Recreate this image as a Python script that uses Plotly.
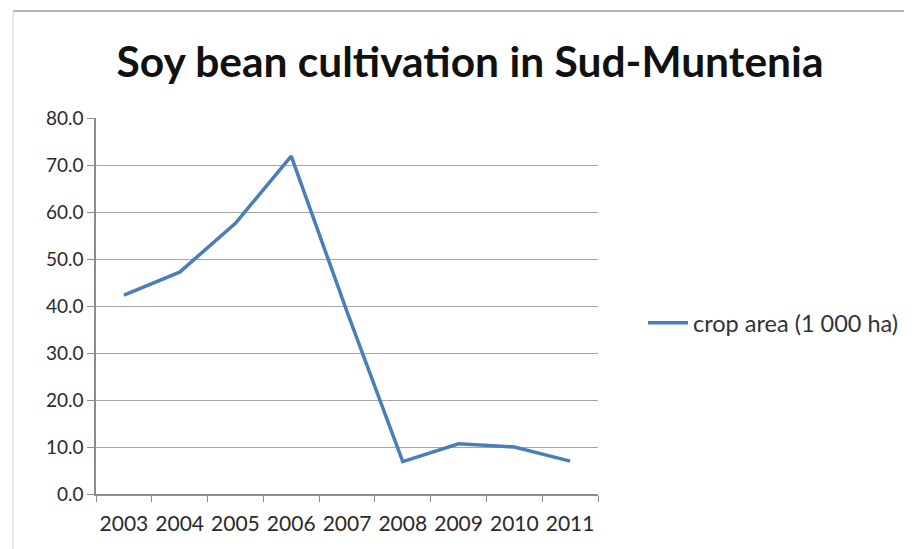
import plotly.graph_objects as go

years = ["2003", "2004", "2005", "2006", "2007", "2008", "2009", "2010", "2011"]
crop_area = [42.3, 47.2, 57.6, 71.9, 38.8, 6.9, 10.7, 10.0, 7.0]
series_name = "crop area (1 000 ha)"
title_text = "Soy bean cultivation in Sud-Muntenia"
y_ticks = [0, 10, 20, 30, 40, 50, 60, 70, 80]

# page body has an 8px margin; work in screen coordinates and subtract it
OFF = 8
W, H = 912 - OFF, 549 - OFF
L, R, T, B = 96 - OFF, 598 - OFF, 118 - OFF, 494 - OFF

fig = go.Figure()
fig.add_trace(go.Scatter(
    x=years, y=crop_area, mode="lines", name=series_name,
    line=dict(color="#4A7EBB", width=3.5),
))

def px_to_paper_x(px):
    return (px - OFF - L) / (R - L)

def px_to_paper_y(py):
    return (B - (py - OFF)) / (B - T)

fig.update_layout(
    width=W, height=H,
    margin=dict(l=L, r=W - R, t=T, b=H - B, pad=0, autoexpand=False),
    paper_bgcolor="white", plot_bgcolor="white",
    font=dict(family="Lato, Liberation Sans, sans-serif", color="#222222"),
    title=dict(text="<b>" + title_text + "</b>", x=(470 - OFF) / W, xanchor="center",
               y=1 - (62 - OFF) / H, yanchor="middle",
               font=dict(size=42.5, color="#111111")),
    showlegend=True,
    legend=dict(x=px_to_paper_x(643), y=px_to_paper_y(323), xanchor="left", yanchor="middle",
                font=dict(size=23.5, color="#333333"), bgcolor="rgba(0,0,0,0)",
                itemwidth=40, tracegroupgap=0),
    xaxis=dict(
        type="category", range=[-0.5, len(years) - 0.5],
        showline=True, linecolor="#8c8c8c", linewidth=1.5,
        ticks="outside", tickson="boundaries", ticklen=6, tickcolor="#8c8c8c",
        showgrid=False, zeroline=False, automargin=False,
        tickangle=0,
        tickfont=dict(size=21, color="#2a2a2a"),
        ticklabelstandoff=10,
    ),
    yaxis=dict(
        range=[0, 80], tickvals=y_ticks, tickformat=".1f",
        showline=True, linecolor="#8c8c8c", linewidth=1.5,
        ticks="outside", ticklen=7, tickcolor="#8c8c8c",
        showgrid=True, gridcolor="#a6a6a6", gridwidth=1.2,
        zeroline=False, automargin=False,
        tickfont=dict(size=19, color="#2a2a2a"),
        ticklabelstandoff=0,
    ),
)

# outer chart border (top and left visible)
fig.add_shape(type="line", xref="paper", yref="paper",
              x0=px_to_paper_x(13), x1=px_to_paper_x(930),
              y0=px_to_paper_y(11), y1=px_to_paper_y(11),
              line=dict(color="#9a9a9a", width=1.5))
fig.add_shape(type="line", xref="paper", yref="paper",
              x0=px_to_paper_x(13), x1=px_to_paper_x(13),
              y0=px_to_paper_y(11), y1=px_to_paper_y(570),
              line=dict(color="#d0d0d0", width=1))

fig.write_html("out.html")
